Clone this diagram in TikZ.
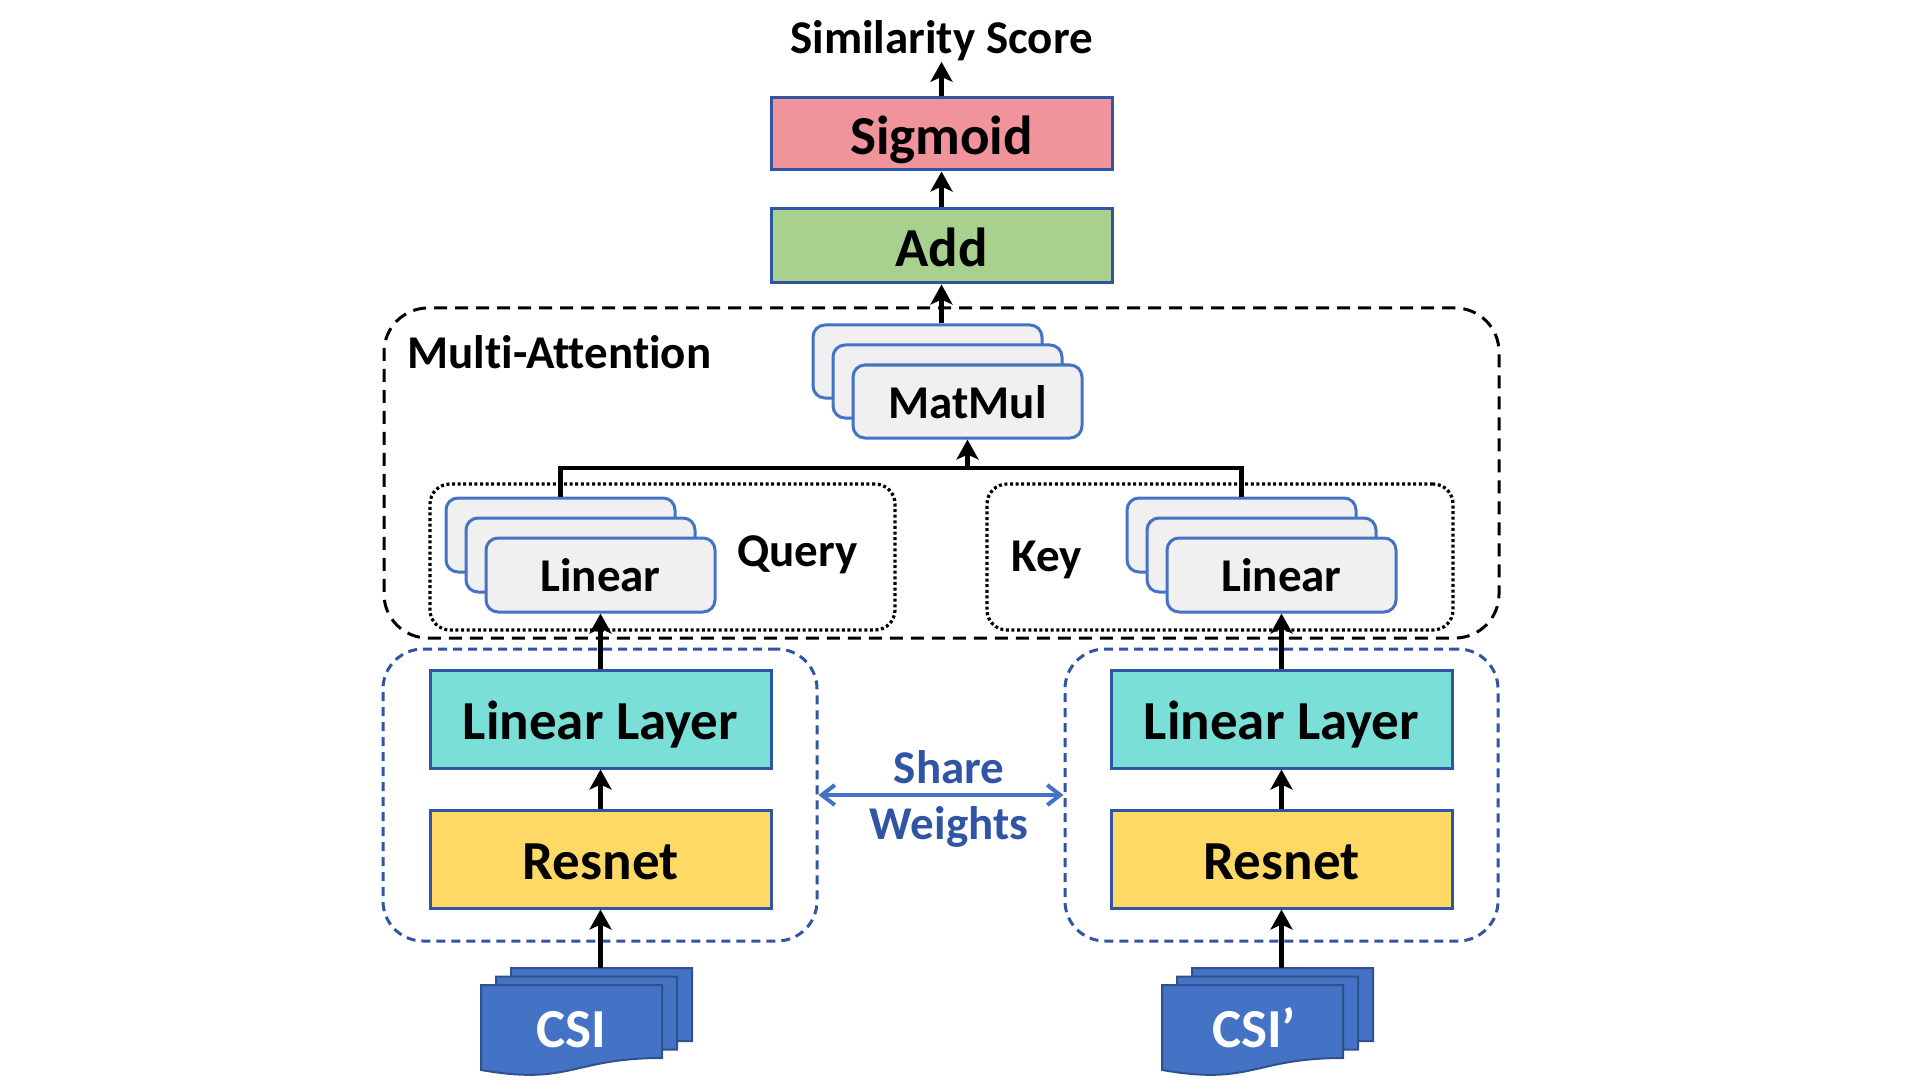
\documentclass[tikz,border=0pt]{standalone}
\usepackage{fontspec}
\setmainfont{Carlito}[Ligatures=NoCommon]
\usetikzlibrary{arrows.meta}
\definecolor{bdr}{HTML}{2F55A4}
\definecolor{stkb}{HTML}{4472C4}
\definecolor{stkf}{HTML}{F0F0F0}
\definecolor{pinkf}{HTML}{F0939B}
\definecolor{greenf}{HTML}{A9D18E}
\definecolor{tealf}{HTML}{7ADFD6}
\definecolor{yellowf}{HTML}{FFD966}
\definecolor{csif}{HTML}{4472C4}
\definecolor{csib}{HTML}{2F528F}
\newcommand\fbig{\fontsize{27.5}{33}\selectfont\bfseries}
\newcommand\fmed{\fontsize{23.5}{28}\selectfont\bfseries}
\newcommand\csidoc[2]{\draw[docstyle] (#1,#2) -- ({#1+181},#2) -- ({#1+181},{#2+73}) .. controls ({#1+90.5},{#2+73}) and ({#1+90.5},{#2+100.7}) .. (#1,{#2+85}) -- cycle;}
\tikzset{
  box/.style={draw=bdr, line width=1.5pt, minimum width=170.5pt, font=\fbig, text height=20.5pt, text depth=0pt, inner sep=0pt},
  stk/.style={draw=stkb, fill=stkf, line width=1.5pt, rounded corners=6pt, minimum width=114.5pt, minimum height=37pt, font=\fmed, inner sep=0pt, text height=16.8pt, text depth=0pt},
  arr/.style={line width=2.2pt, -{Stealth[length=10pt,width=11pt,inset=2.5pt]}},
  shr/.style={line width=2pt, draw=stkb, {Straight Barb[length=6.5pt,width=10pt]}-{Straight Barb[length=6.5pt,width=10pt]}},
  madash/.style={draw=black, line width=1.5pt, dash pattern=on 6.5pt off 4pt, rounded corners=22pt, inner sep=0pt},
  dotbox/.style={draw=black, line width=1.6pt, dash pattern=on 1.5pt off 1.3pt, rounded corners=10pt, inner sep=0pt},
  bluedash/.style={draw=bdr, line width=1.5pt, dash pattern=on 4.5pt off 3pt, rounded corners=20pt, inner sep=0pt},
  lbl/.style={font=\fmed, inner sep=0pt},
  docstyle/.style={fill=csif, draw=csib, line width=1pt},
}
\begin{document}
\begin{tikzpicture}[x=0.5pt,y=-0.5pt]
\useasboundingbox (0,0) rectangle (1920,1080);
% containers
\node[madash, minimum width=557.5pt, minimum height=165pt] (ma) at (941.5,473) {};
\node[dotbox, minimum width=232.5pt, minimum height=73pt] (qbox) at (662.5,557) {};
\node[dotbox, minimum width=233pt, minimum height=73pt] (kbox) at (1220,557) {};
\node[bluedash, minimum width=217pt, minimum height=146pt] (lb) at (600,795) {};
\node[bluedash, minimum width=216.5pt, minimum height=146pt] (rb) at (1281.5,795) {};
% labels
\node[lbl, anchor=base west] (matitle) at (407,369) {Multi-Attention};
\node[lbl, anchor=base west] (qlbl) at (737,566) {Query};
\node[lbl, anchor=base west] (klbl) at (1011,571) {Key};
\node[lbl, anchor=base] (score) at (941.5,54) {Similarity Score};
\node[lbl, text=bdr, anchor=base] (share) at (949,783) {Share};
\node[lbl, text=bdr, anchor=base] (wts) at (949,839) {Weights};
% top boxes
\node[box, fill=pinkf, minimum height=36pt] (sig) at (941.5,134) {Sigmoid};
\node[box, fill=greenf, minimum height=37pt] (add) at (941.5,246) {Add};
% MatMul stack
\node[stk, minimum height=36.5pt] (mm1) at (927.5,361.5) {};
\node[stk, minimum height=36.5pt] (mm2) at (947.5,381.5) {};
\node[stk, minimum height=36.5pt] (mm3) at (967.5,401.5) {MatMul};
% Query linear stack
\node[stk] (lq1) at (560.5,535) {};
\node[stk] (lq2) at (580.5,555) {};
\node[stk] (lq3) at (600.5,575) {Linear};
% Key linear stack
\node[stk] (rk1) at (1241.5,535) {};
\node[stk] (rk2) at (1261.5,555) {};
\node[stk] (rk3) at (1281.5,575) {Linear};
% Linear layers and resnets
\node[box, fill=tealf, minimum height=49pt] (lyrL) at (600.5,719) {Linear Layer};
\node[box, fill=yellowf, minimum height=49pt] (resL) at (600.5,859) {Resnet};
\node[box, fill=tealf, minimum height=49pt] (lyrR) at (1281.5,719) {Linear Layer};
\node[box, fill=yellowf, minimum height=49pt] (resR) at (1281.5,859) {Resnet};
% CSI documents
\csidoc{511}{968}
\csidoc{496}{976.5}
\csidoc{481}{985}
\csidoc{1192}{968}
\csidoc{1177}{976.5}
\csidoc{1162}{985}
\node[font=\fbig, text=white, inner sep=0pt, text height=17.4pt, text depth=0pt] (csiL) at (571.5,1030) {CSI};
\node[font=\fbig, text=white, inner sep=0pt, text height=17.4pt, text depth=0pt] (csiR) at (1254,1030) {CSI’};
\coordinate (csiLtop) at (600.5,968);
\coordinate (csiRtop) at (1281.5,968);
\coordinate (j) at (967.5,468);
% connectors
\draw[arr] (sig.north) -- (score.south);
\draw[arr] (add.north) -- (sig.south);
\draw[arr] (mm1.north -| add.south) -- (add.south);
\draw[line width=2.2pt] (lq1.north) -- (lq1.north |- j) -- (rk1.north |- j) -- (rk1.north);
\draw[arr] (j) -- (mm3.south);
\draw[arr] (lyrL.north) -- (lq3.south);
\draw[arr] (lyrR.north) -- (rk3.south);
\draw[arr] (resL.north) -- (lyrL.south);
\draw[arr] (resR.north) -- (lyrR.south);
\draw[arr] (csiLtop) -- (resL.south);
\draw[arr] (csiRtop) -- (resR.south);
\draw[shr] (lb.east) -- (rb.west);
\end{tikzpicture}
\end{document}
